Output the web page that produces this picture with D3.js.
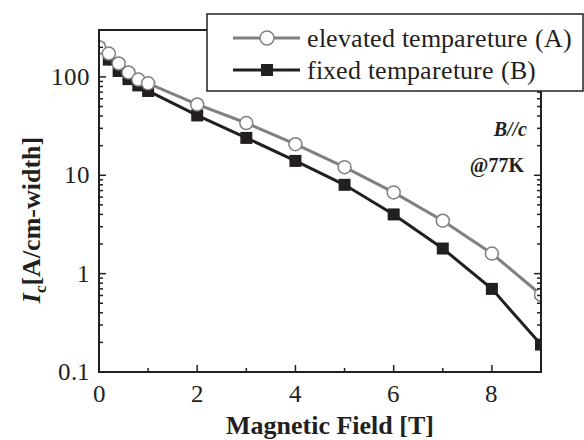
<!DOCTYPE html>
<html>
<head>
<meta charset="utf-8">
<script src="https://cdn.jsdelivr.net/npm/d3@7"></script>
<style>
  @font-face {
    font-family: "ChartSerif";
    src: local("Liberation Serif"), local("LiberationSerif"), local("LiberationSerif-Regular"), local("Liberation Serif Regular");
    font-weight: 400;
    font-style: normal;
  }
</style>
</head>
<body style="margin:0">
<script>
// field values [T]
var fields = [0, 0.2, 0.4, 0.6, 0.8, 1, 2, 3, 4, 5, 6, 7, 8, 9];
// Ic [A/cm-width], elevated temperature process (A)
var icElevated = [200, 173, 137, 111, 94, 86, 52.5, 34, 20.7, 12.1, 6.7, 3.45, 1.6, 0.61];
// Ic [A/cm-width], fixed temperature process (B)
var icFixed = [195, 150, 115, 95, 82, 72, 40.6, 24, 14, 8, 4, 1.8, 0.7, 0.19];

var xTicks = [0, 2, 4, 6, 8];
var xMinorTicks = [1, 3, 5, 7, 9];
var yTicks = [0.1, 1, 10, 100];
var seriesNames = ["elevated tempareture (A)", "fixed tempareture (B)"];

var W = 584, H = 440;
var margin = { top: 30, right: 43, bottom: 68, left: 99 };
var w = W - margin.left - margin.right;
var h = H - margin.top - margin.bottom;
var ink = "#231f20";
var gray = "#808080";
var fam = "Liberation Serif";
// regular-weight text goes through its own face name
var famRegular = "ChartSerif, 'Nimbus Roman', Tinos, serif";

var svg = d3.select("body").append("svg").attr("width", W).attr("height", H);
var g = svg.append("g").attr("transform", "translate(" + margin.left + "," + margin.top + ")");

var x = d3.scaleLinear().domain([0, 9]).range([0, w]);
var y = d3.scaleLog().domain([0.1, 300]).range([h, 0]);

// minor log ticks 2..9 in each decade
var yMinor = [];
yTicks.forEach(function (dec) {
  for (var k = 2; k <= 9; k++) {
    if (dec * k <= 300) yMinor.push(dec * k);
  }
});

// series lines and markers
var line = d3.line()
  .x(function (d) { return x(d.x); })
  .y(function (d) { return y(d.y); });
var seriesA = fields.map(function (f, i) { return { x: f, y: icElevated[i] }; });
var seriesB = fields.map(function (f, i) { return { x: f, y: icFixed[i] }; });

g.append("path").datum(seriesB)
  .attr("fill", "none").attr("stroke", ink).attr("stroke-width", 3)
  .attr("d", line);
g.selectAll(".sq").data(seriesB)
  .enter().append("rect")
  .attr("class", "sq")
  .attr("x", function (d) { return x(d.x) - 6; })
  .attr("y", function (d) { return y(d.y) - 6; })
  .attr("width", 12).attr("height", 12)
  .attr("fill", ink);

g.append("path").datum(seriesA)
  .attr("fill", "none").attr("stroke", gray).attr("stroke-width", 3)
  .attr("d", line);
g.selectAll(".dot").data(seriesA)
  .enter().append("circle")
  .attr("class", "dot")
  .attr("cx", function (d) { return x(d.x); })
  .attr("cy", function (d) { return y(d.y); })
  .attr("r", 6.5)
  .attr("fill", "#fff").attr("stroke", gray).attr("stroke-width", 1.5);

// markers on the edges are cut at the frame
g.append("rect").attr("x", -margin.left).attr("y", -2).attr("width", margin.left).attr("height", h + 4).attr("fill", "#fff");
g.append("rect").attr("x", w).attr("y", -2).attr("width", margin.right).attr("height", h + 4).attr("fill", "#fff");

// frame
g.append("rect")
  .attr("width", w).attr("height", h)
  .attr("fill", "none").attr("stroke", ink).attr("stroke-width", 2);

// inward ticks
var ticks = g.append("g").attr("stroke", ink).attr("stroke-width", 1.5);
ticks.selectAll(".xt").data(xTicks.concat(xMinorTicks)).enter().append("line")
  .attr("x1", function (d) { return x(d); }).attr("x2", function (d) { return x(d); })
  .attr("y1", h).attr("y2", function (d) { return h - (xTicks.indexOf(d) >= 0 ? 7 : 4); });
[0, w].forEach(function (side) {
  var dir = side === 0 ? 1 : -1;
  ticks.selectAll(null).data(yTicks.concat(yMinor)).enter().append("line")
    .attr("x1", side)
    .attr("x2", function (d) { return side + dir * (yTicks.indexOf(d) >= 0 ? 7 : 4); })
    .attr("y1", function (d) { return y(d); }).attr("y2", function (d) { return y(d); });
});

// tick labels
g.selectAll(".xl").data(xTicks).enter().append("text")
  .attr("x", function (d) { return x(d); }).attr("y", h + 30)
  .attr("text-anchor", "middle").attr("font-size", 25)
  .style("font-family", famRegular).attr("fill", ink)
  .text(function (d) { return d; });
g.selectAll(".yl").data(yTicks).enter().append("text")
  .attr("x", -9).attr("y", function (d) { return y(d) + 8; })
  .attr("text-anchor", "end").attr("font-size", 25)
  .style("font-family", famRegular).attr("fill", ink)
  .text(function (d) { return d3.format("~g")(d); });

// axis titles
g.append("text")
  .attr("x", w / 2 + 10).attr("y", h + 62)
  .attr("text-anchor", "middle")
  .attr("font-size", 26).attr("font-weight", "bold")
  .attr("font-family", fam).attr("fill", ink)
  .text("Magnetic Field [T]");

var yTitle = g.append("text")
  .attr("transform", "translate(-59," + (h / 2 + 19) + ") rotate(-90)")
  .attr("text-anchor", "middle")
  .attr("font-size", 26).attr("font-weight", "bold")
  .attr("font-family", fam).attr("fill", ink);
yTitle.append("tspan").attr("font-style", "italic").text("I");
yTitle.append("tspan").attr("font-size", 17).attr("dy", 6).text("c");
yTitle.append("tspan").attr("dy", -6).text("[A/cm-width]");

// condition notes
g.append("text")
  .attr("x", 428).attr("y", 106)
  .attr("text-anchor", "end").attr("fill", ink).attr("font-family", fam)
  .attr("font-size", 20).attr("font-weight", "bold").attr("font-style", "italic")
  .text("B//c");
g.append("text")
  .attr("x", 425).attr("y", 142)
  .attr("text-anchor", "end").attr("fill", ink).attr("font-family", fam)
  .attr("font-size", 20).attr("font-weight", "bold")
  .text("@77K");

// legend
var legend = svg.append("g").attr("transform", "translate(207,14)");
legend.append("rect")
  .attr("width", 376).attr("height", 77)
  .attr("fill", "#fff").attr("stroke", ink).attr("stroke-width", 1.5);

var rows = legend.selectAll(".row").data(seriesNames)
  .enter().append("g")
  .attr("class", "row")
  .attr("transform", function (d, i) { return "translate(0," + (24 + i * 32) + ")"; });

rows.append("line")
  .attr("x1", 26).attr("x2", 93)
  .attr("stroke", function (d, i) { return i === 0 ? gray : ink; })
  .attr("stroke-width", 3);
rows.each(function (d, i) {
  var r = d3.select(this);
  if (i === 0) {
    r.append("circle").attr("cx", 60).attr("r", 7)
      .attr("fill", "#fff").attr("stroke", gray).attr("stroke-width", 1.5);
  } else {
    r.append("rect").attr("x", 54).attr("y", -6).attr("width", 12).attr("height", 12)
      .attr("fill", ink);
  }
});
rows.append("text")
  .attr("x", 100).attr("y", 9)
  .attr("font-size", 26).style("font-family", famRegular).attr("fill", ink)
  .text(function (d) { return d; });
</script>
</body>
</html>
